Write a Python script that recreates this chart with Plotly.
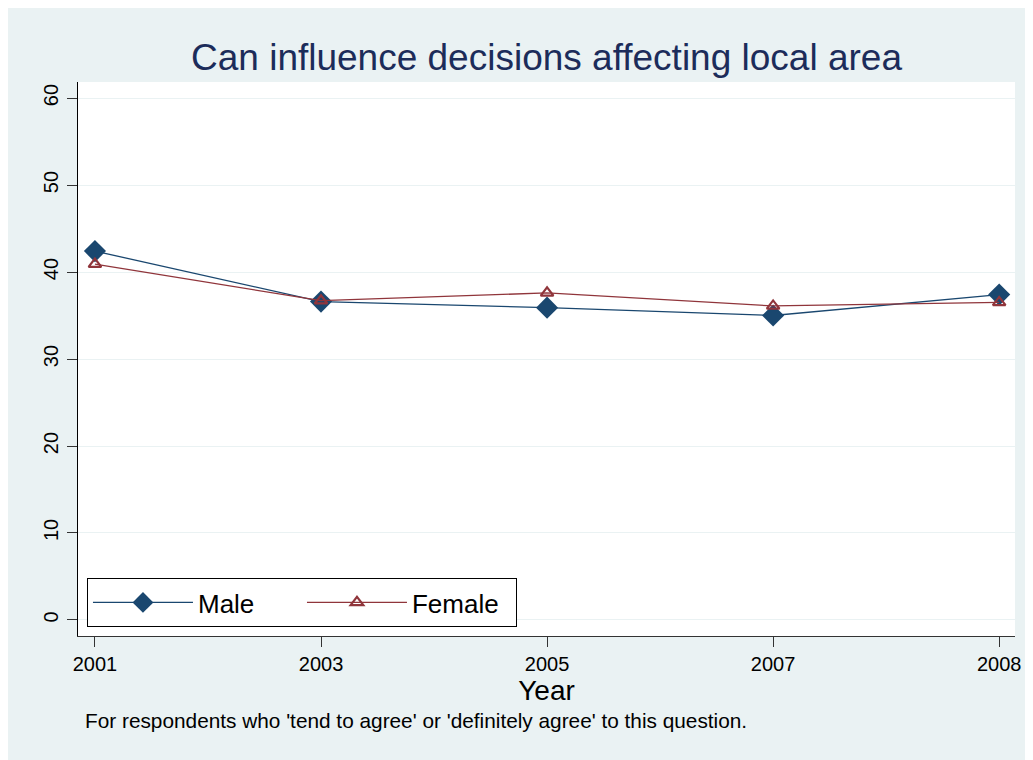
import plotly.graph_objects as go

years = ["2001", "2003", "2005", "2007", "2008"]
male = [42.4, 36.6, 35.9, 35.0, 37.4]
female = [40.9, 36.7, 37.6, 36.1, 36.5]
y_ticks = [0, 10, 20, 30, 40, 50, 60]

title_text = "Can influence decisions affecting local area"
note_text = "For respondents who 'tend to agree' or 'definitely agree' to this question."

BG = "#EAF2F3"
NAVY = "#1A476F"
RED = "#90353B"
FONT = "Liberation Sans, Arial, sans-serif"

fig = go.Figure()
fig.add_trace(go.Scatter(
    x=years, y=male, name="Male", mode="lines+markers",
    line=dict(color=NAVY, width=1.3),
    marker=dict(symbol="diamond", size=17, color=NAVY),
))
fig.add_trace(go.Scatter(
    x=years, y=female, name="Female", mode="lines+markers",
    line=dict(color=RED, width=1.3),
    marker=dict(symbol="triangle-up-open", size=11, color=RED, line=dict(width=2.2, color=RED)),
))

# page has an 8px body margin; figure is positioned at (8, 8)
W, H = 1025, 752
L, R, T, B = 70, 15, 74, 124
pw, ph = W - L - R, H - T - B

fig.add_annotation(text=note_text, xref="paper", yref="paper",
                   x=(83 - 78) / pw, y=-(720 - 636) / ph,
                   xanchor="left", yanchor="middle", showarrow=False,
                   font=dict(family=FONT, size=20.8, color="black"))

fig.update_layout(
    width=W, height=H,
    margin=dict(l=L, r=R, t=T, b=B),
    paper_bgcolor=BG,
    plot_bgcolor="white",
    font=dict(family=FONT, color="black"),
    title=dict(text=title_text, x=0.5, xref="paper", xanchor="center",
               y=1 - 49 / H, yanchor="middle", yref="container",
               font=dict(family=FONT, size=37, color="#1C2C5A")),
    showlegend=True,
    legend=dict(orientation="h", x=(87 - 78) / pw, y=(636 - 627) / ph,
                xanchor="left", yanchor="bottom",
                bgcolor="white", bordercolor="black", borderwidth=1,
                font=dict(family=FONT, size=26, color="black"),
                itemwidth=100, entrywidth=99, entrywidthmode="pixels",
                traceorder="normal"),
    xaxis=dict(type="category", range=[-0.075, 4.07],
               showgrid=False, zeroline=False,
               showline=True, linecolor="#333333", linewidth=1,
               ticks="outside", ticklen=10, tickcolor="#333333",
               tickfont=dict(family=FONT, size=20, color="black"),
               title=dict(text="Year", standoff=0,
                          font=dict(family=FONT, size=28, color="black"))),
    yaxis=dict(range=[-1.84, 61.84], tickvals=y_ticks,
               showgrid=True, gridcolor=BG, gridwidth=1, zeroline=False,
               showline=True, linecolor="black", linewidth=1,
               ticks="outside", ticklen=10, tickcolor="#333333",
               tickangle=-90, ticklabelstandoff=1,
               tickfont=dict(family=FONT, size=20, color="black")),
)

fig.write_html("out.html")
